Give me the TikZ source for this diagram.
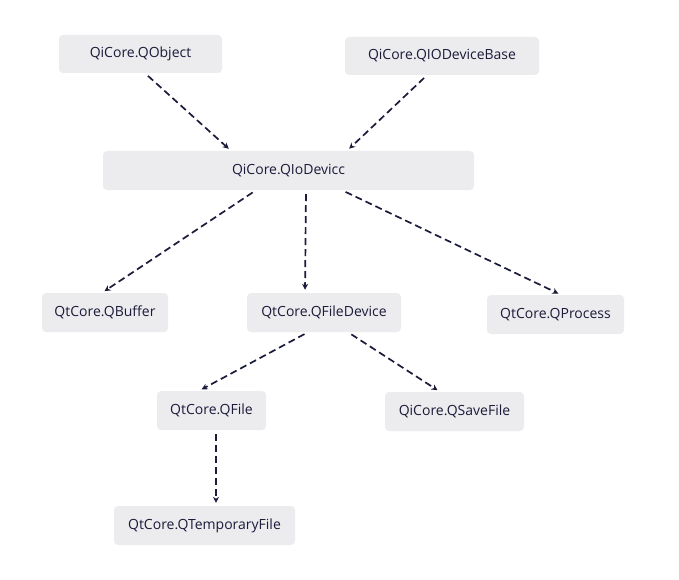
\documentclass[tikz,border=0pt]{standalone}
\usepackage{fontspec}
\setmainfont{Open Sans}
\usetikzlibrary{arrows.meta}

\definecolor{boxgray}{HTML}{ECEBEE}
\definecolor{inkblue}{HTML}{1B1B3A}

\begin{document}
\begin{tikzpicture}[x=1pt, y=-1pt,
  cls/.style={fill=boxgray, rounded corners=4pt, inner sep=0pt, font=\fontsize{14}{16}\selectfont, text=inkblue},
  inherit/.style={draw=inkblue, line width=1.7pt, dash pattern=on 7pt off 4pt, arrows={-Stealth[length=6pt, width=6pt]}, shorten <=4pt, shorten >=3pt}]
\useasboundingbox (0,0) rectangle (679,580);
\node[cls, minimum width=163pt, minimum height=38pt] at (140.5,54) (qobject) {QiCore.QObject};
\node[cls, minimum width=194pt, minimum height=38pt] at (442,56) (iobase) {QiCore.QIODeviceBase};
\node[cls, minimum width=371pt, minimum height=39pt] at (288.5,170.5) (iodev) {QiCore.QIoDevicc};
\node[cls, minimum width=126pt, minimum height=39pt] at (105,312.5) (buffer) {QtCore.QBuffer};
\node[cls, minimum width=154pt, minimum height=39pt] at (324,312.5) (filedev) {QtCore.QFileDevice};
\node[cls, minimum width=137pt, minimum height=39pt] at (555.5,314.5) (process) {QtCore.QProcess};
\node[cls, minimum width=109pt, minimum height=39pt] at (211.5,410.5) (qfile) {QtCore.QFile};
\node[cls, minimum width=139pt, minimum height=39pt] at (454.5,411.5) (savefile) {QiCore.QSaveFile};
\node[cls, minimum width=181pt, minimum height=39pt] at (204.5,525.5) (tmpfile) {QtCore.QTemporaryFile};

\draw[inherit] ([xshift=4.5pt]qobject.south) -- ([xshift=-57.5pt]iodev.north);
\draw[inherit] ([xshift=-15pt]iobase.south) -- ([xshift=58.5pt]iodev.north);
\draw[inherit] ([xshift=-32.5pt]iodev.south) -- ([xshift=-3pt]buffer.north);
\draw[inherit] ([xshift=17.5pt]iodev.south) -- ([xshift=-19pt]filedev.north);
\draw[inherit] ([xshift=53.5pt]iodev.south) -- ([xshift=5.5pt]process.north);
\draw[inherit] ([xshift=-16pt]filedev.south) -- ([xshift=-12.5pt]qfile.north);
\draw[inherit] ([xshift=24pt]filedev.south) -- ([xshift=-14.5pt]savefile.north);
\draw[inherit] ([xshift=4.5pt]qfile.south) -- ([xshift=11.5pt]tmpfile.north);
\end{tikzpicture}
\end{document}
